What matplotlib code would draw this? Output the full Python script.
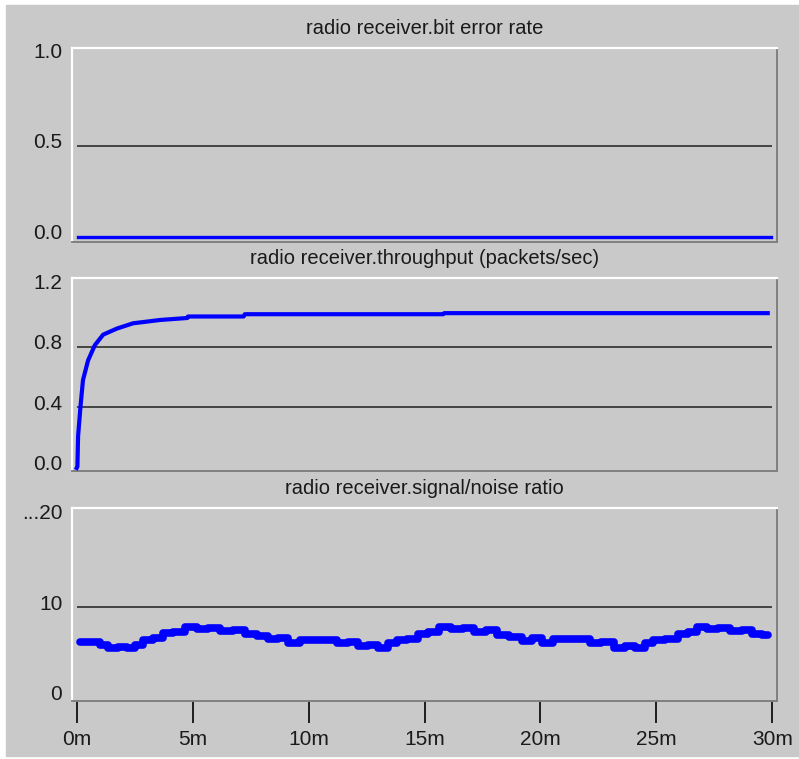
import matplotlib
matplotlib.use("Agg")
import matplotlib.pyplot as plt
from matplotlib.patches import Rectangle
from matplotlib.transforms import ScaledTranslation

# --- data (minutes) ---
ber_t = [0.05, 29.95]
ber_v = [0.0, 0.0]

thr_t = [0.0, 0.03, 0.06, 0.16, 0.27, 0.49, 0.78, 1.14, 1.73, 2.43, 3.6, 4.77,
         4.8, 7.2, 7.25, 15.8, 15.85, 29.8]
thr_v = [0.0, 0.01, 0.21, 0.40, 0.58, 0.71, 0.81, 0.88, 0.92, 0.955, 0.977, 0.99,
         1.0, 1.0, 1.015, 1.015, 1.022, 1.022]

snr_t = [0.14, 0.86, 1.15, 1.58, 2.0, 2.3, 2.73, 3.02, 3.59, 3.88, 4.45, 4.89,
         5.46, 5.89, 6.47, 7.04, 7.47, 8.05, 8.48, 8.91, 9.34, 9.92, 10.92, 11.5,
         11.93, 12.36, 12.79, 13.22, 13.65, 13.94, 14.51, 14.95, 15.38, 15.88,
         16.39, 16.89, 17.39, 17.9, 18.33, 18.97, 19.4, 19.9, 20.27, 20.84, 21.99,
         22.28, 22.92, 23.43, 23.86, 24.29, 24.72, 25.01, 25.73, 26.16, 26.59,
         26.88, 27.45, 27.88, 28.46, 28.96, 29.32, 29.82]
snr_v = [6.19, 6.19, 5.82, 5.46, 5.64, 5.46, 5.82, 6.37, 6.56, 7.11, 7.29, 7.84,
         7.55, 7.66, 7.40, 7.47, 7.0, 6.81, 6.45, 6.56, 6.08, 6.37, 6.37, 6.08,
         6.19, 5.71, 5.82, 5.46, 6.01, 6.37, 6.45, 7.03, 7.29, 7.84,
         7.55, 7.66, 7.29, 7.47, 6.92, 6.74, 6.30, 6.56, 6.08, 6.45, 6.45,
         6.08, 6.19, 5.53, 5.71, 5.46, 6.01, 6.37, 6.45, 7.03, 7.29,
         7.84, 7.55, 7.66, 7.40, 7.47, 7.0, 6.92]

titles = ["radio receiver.bit error rate",
          "radio receiver.throughput (packets/sec)",
          "radio receiver.signal/noise ratio"]
x_ticks = [0, 5, 10, 15, 20, 25, 30]
x_labels = ["0m", "5m", "10m", "15m", "20m", "25m", "30m"]

W, H = 799, 759
GREY = "#c9c9c9"
TXT = "#1a1a1a"
BLUE = "#0000ff"
plt.rcParams["font.family"] = ["Liberation Sans", "DejaVu Sans"]

fig = plt.figure(figsize=(W / 100, H / 100), dpi=100, facecolor="white")
fig.patches.append(Rectangle((6 / W, 3 / H), (W - 6) / W, (756 - 5) / H,
                             transform=fig.transFigure, color=GREY, zorder=-10))


def make_axes(top, bottom, ylim, yticks, ylabels, grid):
    l, r = 72, 777
    ax = fig.add_axes([l / W, 1 - bottom / H, (r - l) / W, (bottom - top) / H])
    ax.set_facecolor(GREY)
    ax.set_xlim(-0.203, 30.2)
    ax.set_ylim(*ylim)
    for s in ("top", "left"):
        ax.spines[s].set_color("white")
        ax.spines[s].set_linewidth(1.6)
    for s in ("bottom", "right"):
        ax.spines[s].set_color("#808080")
        ax.spines[s].set_linewidth(1.4)
    ax.set_yticks(yticks, ylabels)
    ax.tick_params(axis="y", length=0, pad=7, labelsize=15, labelcolor=TXT)
    shift = ScaledTranslation(0, 5 / 100, fig.dpi_scale_trans)
    for lab in ax.get_yticklabels():
        lab.set_transform(lab.get_transform() + shift)
    ax.set_xticks([])
    for g in grid:
        ax.hlines(g, 0, 30, color="#202020", linewidth=1.1, zorder=1)
    return ax


ax1 = make_axes(48, 242, (-0.030, 1.041), [0, 0.5, 1.0], ["0.0", "0.5", "1.0"], [0.5])
ax1.plot(ber_t, ber_v, color=BLUE, linewidth=2.4, zorder=3)
ax1.set_title(titles[0], fontsize=14.5, color=TXT, pad=10)

ax2 = make_axes(278, 471, (-0.02, 1.254), [0, 0.4, 0.8, 1.2],
                ["0.0", "0.4", "0.8", "1.2"], [0.4, 0.8])
ax2.plot(thr_t, thr_v, color=BLUE, linewidth=3.0, zorder=3)
ax2.set_title(titles[1], fontsize=14.5, color=TXT, pad=10)

ax3 = make_axes(508, 701, (-0.33, 20.88), [0, 10, 20], ["0", "10", "...20"], [10])
ax3.plot(snr_t, snr_v, color=BLUE, linewidth=5.5, zorder=3, drawstyle="steps-mid",
         solid_joinstyle="round", solid_capstyle="round")
ax3.set_title(titles[2], fontsize=14.5, color=TXT, pad=10)
ax3.set_xticks(x_ticks, x_labels)
ax3.tick_params(axis="x", direction="out", length=16, width=1.3, color="#111111",
                pad=5, labelsize=15, labelcolor=TXT)

fig.savefig("out.png", dpi=100, facecolor=fig.get_facecolor())
